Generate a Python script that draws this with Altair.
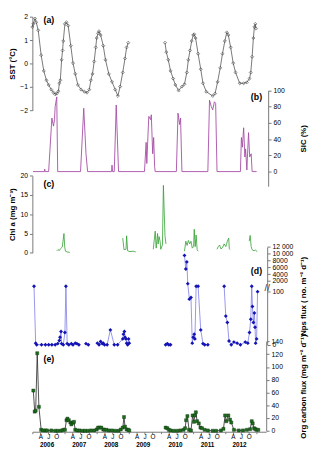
import altair as alt
import pandas as pd

FONT = "Liberation Sans"
TOP = 12          # page y of the plot-area top (8 px margin + 4 px padding)
W, H = 240, 425


def py(y):
    """page y -> plot y"""
    return y - TOP


# ---------------- data (decimal years) -------------
YEARS = [2006, 2007, 2008, 2009, 2010, 2011, 2012]
MONTH_FRAC = [0.0, 0.247, 0.496, 0.748]      # Jan, Apr, Jul, Oct
MONTH_LABELS = ["", "A", "J", "O"]

# (a) SST
sst1_t = [2006.000, 2006.030, 2006.082, 2006.122, 2006.182, 2006.274, 2006.356, 2006.438,
          2006.508, 2006.590, 2006.660, 2006.711, 2006.760, 2006.812, 2006.842, 2006.872,
          2006.912, 2006.942, 2006.964, 2007.015, 2007.064, 2007.116, 2007.198, 2007.267,
          2007.337, 2007.419, 2007.520, 2007.623, 2007.702, 2007.775, 2007.824, 2007.875,
          2007.927, 2007.976, 2008.006, 2008.049, 2008.079, 2008.128, 2008.210, 2008.280,
          2008.383, 2008.483, 2008.584, 2008.666, 2008.736, 2008.818, 2008.888, 2008.939,
          2008.991]
sst1_v = [1.56, 1.69, 1.92, 1.76, 1.42, 0.36, -0.31, -0.71, -0.91, -1.11, -1.24, -1.31, -1.28,
          -1.18, -0.84, -0.71, 0.16, 0.56, 0.96, 1.69, 1.76, 1.62, 0.76, 0.02, -0.44, -0.91,
          -1.11, -1.20, -1.24, -1.11, -0.71, -0.44, 0.09, 0.69, 1.09, 1.29, 1.38, 1.22, 0.76,
          0.16, -0.44, -0.78, -1.11, -1.38, -0.98, -0.38, 0.22, 0.69, 0.89]
sst2_t = [2010.134, 2010.176, 2010.237, 2010.307, 2010.389, 2010.459, 2010.559, 2010.663,
          2010.742, 2010.815, 2010.863, 2010.915, 2010.967, 2011.015, 2011.046, 2011.088,
          2011.167, 2011.249, 2011.319, 2011.422, 2011.623, 2011.696, 2011.775, 2011.857,
          2011.927, 2012.000, 2012.061, 2012.109, 2012.182, 2012.261, 2012.334, 2012.465,
          2012.587, 2012.687, 2012.769, 2012.809, 2012.851, 2012.891, 2012.921, 2012.951,
          2012.973]
sst2_v = [0.89, 0.49, 0.16, -0.31, -0.64, -0.91, -1.15, -0.98, -0.88, -0.38, 0.16, 0.56, 0.96,
          1.22, 1.25, 1.09, 0.42, -0.24, -0.84, -1.20, -1.38, -1.28, -0.78, -0.18, 0.42, 0.96,
          1.33, 1.22, 0.69, 0.02, -0.38, -0.84, -0.84, -0.80, -0.64, -0.38, 0.29, 1.09, 1.56,
          1.69, 1.49]

# (b) SIC (%)
sic_t = [2006.021, 2006.375, 2006.386, 2006.397, 2006.508, 2006.608, 2006.660, 2006.690,
         2006.711, 2006.760, 2006.790, 2007.502, 2007.602, 2007.672, 2007.723, 2008.470,
         2008.483, 2008.500, 2008.553, 2008.614, 2008.687, 2009.495, 2009.547, 2009.568,
         2009.629, 2009.687, 2009.708, 2009.751, 2009.781, 2009.812, 2009.830, 2010.489,
         2010.541, 2010.590, 2010.620, 2010.663, 2011.471, 2011.523, 2011.578, 2011.623,
         2011.675, 2011.714, 2011.757, 2012.486, 2012.517, 2012.547, 2012.587, 2012.626,
         2012.647, 2012.687, 2012.739, 2012.775, 2012.821, 2012.851, 2012.991]
sic_v = [0, 0, 3, 0, 0, 66, 56, 64, 80, 92, 0, 0, 78, 22, 0, 0, 8, 0, 0, 82, 0, 0, 36, 10, 68,
         64, 70, 22, 42, 6, 0, 0, 72, 58, 66, 0, 0, 88, 80, 76, 86, 84, 0, 0, 42, 30, 54, 18,
         28, 2, 48, 18, 22, 0, 0]

# (c) Chl a (mg m-3), one list per bloom season
chl_t = [
    [2006.760, 2006.796, 2006.842, 2006.872, 2006.933, 2006.985, 2007.009, 2007.033, 2007.085, 2007.167],
    [2008.818, 2008.857, 2008.920, 2008.939, 2008.970, 2009.040, 2009.143, 2009.222],
    [2009.769, 2009.830, 2009.860, 2009.903, 2009.921, 2009.951, 2009.982, 2010.003, 2010.055,
     2010.085, 2010.134, 2010.164],
    [2010.742, 2010.784, 2010.824, 2010.863, 2010.906, 2010.945, 2010.985, 2011.027, 2011.046,
     2011.076, 2011.106, 2011.137, 2011.167],
    [2011.757, 2011.796, 2011.836, 2011.878, 2011.927, 2011.979, 2012.030, 2012.079, 2012.122,
     2012.140, 2012.161],
    [2012.760, 2012.790, 2012.821, 2012.851, 2012.912, 2012.951, 2013.012],
]
chl_v = [
    [0.5, 0.8, 0.6, 1.0, 1.5, 5.0, 1.5, 0.4, 0.2, 0.1],
    [3.8, 0.8, 0.9, 4.4, 0.5, 0.3, 0.4, 0.2],
    [0.9, 5.6, 1.2, 5.0, 2.3, 4.2, 3.0, 0.9, 2.0, 17.5, 4.5, 2.3],
    [0.4, 3.0, 1.9, 3.2, 2.3, 3.0, 1.2, 1.6, 6.1, 1.6, 4.6, 0.8, 0.4],
    [0.9, 1.6, 2.0, 1.0, 1.3, 2.3, 1.6, 3.0, 3.8, 1.0, 0.8],
    [3.0, 4.5, 1.6, 0.8, 0.5, 0.7, 0.3],
]

# (d) Nps flux (no. m-2 d-1), one list per sampling segment
nps_t = [
    [2006.052, 2006.103, 2006.134, 2006.286, 2006.407, 2006.508, 2006.608, 2006.711, 2006.790,
     2006.842, 2006.863, 2006.894, 2006.912, 2006.964, 2007.015, 2007.046, 2007.085, 2007.137,
     2007.216, 2007.267, 2007.337, 2007.389, 2007.450],
    [2007.672, 2007.745],
    [2008.027, 2008.079, 2008.128, 2008.179, 2008.210, 2008.249, 2008.331, 2008.432, 2008.553,
     2008.657, 2008.818, 2008.839, 2008.869, 2008.888, 2008.918, 2008.939, 2008.970, 2009.000,
     2009.021],
    [2010.155, 2010.207, 2010.255, 2010.307],
    [2010.742, 2010.784, 2010.815, 2010.845, 2010.894, 2010.945, 2010.985, 2011.015, 2011.046,
     2011.067, 2011.106, 2011.167, 2011.249, 2011.319, 2011.371, 2011.471],
    [2011.979, 2012.030, 2012.079, 2012.131, 2012.201, 2012.283, 2012.383, 2012.486, 2012.638,
     2012.717, 2012.769, 2012.809, 2012.839, 2012.860, 2012.891, 2012.921, 2012.942, 2012.960,
     2012.991, 2013.021],
]
nps_v = [
    [1070, 3, 0, 0, 0, 0, 0, 0, 2, 8, 14, 25, 2, 0, 23, 1070, 2, 0, 2, 0, 3, 2, 0],
    [2, 0],
    [3, 0, 6, 2, 3, 0, 0, 28, 0, 0, 11, 20, 25, 14, 11, 3, 0, 11, 3],
    [0, 2, 0, 0],
    [9514, 5514, 7600, 1534, 86, 89, 3, 14, 20, 11, 1070, 1070, 28, 2, 0, 0],
    [1070, 54, 42, 7, 0, 5, 3, 0, 5, 3, 23, 48, 1070, 72, 42, 60, 33, 3, 11, 110],
]
NPS_TICKS = [0, 100, 2000, 4000, 6000, 8000, 10000, 12000]
NPS_TICK_LABELS = ["0", "100", "2000", "4000", "6000", "8000", "10 000", "12 000"]

# (e) Org carbon flux (mg m-2 d-1)
org_t = [
    [2006.030, 2006.073, 2006.103, 2006.152, 2006.204, 2006.274, 2006.334, 2006.407, 2006.456,
     2006.590, 2006.711, 2006.790, 2006.894, 2006.964, 2007.015, 2007.064, 2007.094, 2007.137,
     2007.185, 2007.216, 2007.267, 2007.298, 2007.337, 2007.398, 2007.471, 2007.571, 2007.641,
     2007.723, 2007.824, 2007.927, 2008.006, 2008.049, 2008.097, 2008.149, 2008.210, 2008.249,
     2008.310, 2008.383, 2008.483, 2008.584, 2008.687, 2008.757, 2008.818, 2008.857, 2008.888,
     2008.939, 2008.991, 2009.021],
    [2010.155, 2010.207, 2010.255, 2010.307, 2010.407, 2010.511, 2010.611, 2010.711, 2010.763,
     2010.793, 2010.833, 2010.885, 2010.945, 2010.997, 2011.036, 2011.067, 2011.097, 2011.137,
     2011.188, 2011.240, 2011.289, 2011.371, 2011.471, 2011.623, 2011.726, 2011.878, 2011.957,
     2012.009, 2012.049, 2012.109, 2012.161, 2012.201, 2012.283, 2012.435, 2012.565, 2012.687,
     2012.790, 2012.839, 2012.869, 2012.912, 2012.951, 2012.991, 2013.043],
]
org_v = [
    [63, 30, 31.5, 121.5, 37.5, 1.5, 0.5, 0.5, 0.5, 0.5, 0, 0, 0.3, 1.5, 1.5, 16.5, 19, 16.5,
     13, 10, 12.5, 14, 1.5, 0.5, 0.5, 0, 0, 0, 0.5, 0.5, 2, 5, 5, 5, 2, 1.5, 1.5, 0.5, 0.5, 0,
     0, 2, 5, 21.5, 6.5, 2, 1.5, 0.5],
    [5, 4, 1.5, 0.5, 0, 0, 0.5, 1.5, 4, 16.5, 23, 1.5, 0.5, 24, 14, 24, 29, 15, 11.5, 5, 4,
     1.5, 0.5, 0, 0, 0.5, 3, 24, 15, 24, 17.5, 13, 1.5, 0.5, 0.5, 1.5, 2.5, 15, 11.5, 4, 2.5,
     1.5, 1.5],
]


def segs(ts, vs):
    rows = []
    for i, (tt, vv) in enumerate(zip(ts, vs)):
        rows += [{"t": a, "v": b, "seg": i} for a, b in zip(tt, vv)]
    return pd.DataFrame(rows)


sst_df = segs([sst1_t, sst2_t], [sst1_v, sst2_v])
sic_df = pd.DataFrame({"t": sic_t, "v": sic_v})
chl_df = segs(chl_t, chl_v)
nps_df = segs(nps_t, nps_v)
org_df = segs(org_t, org_v)
year_df = pd.DataFrame({"year": YEARS})


# ---------------- broken Nps axis: value -> display units --------------------------
def nps_pos(v):
    if v <= 100:
        return v * 0.544
    if v <= 2000:
        return 54.4 + (v - 100) * 11 / 1900
    return 65.4 + (v - 2000) * 0.0035


NPS_EXPR = ("datum.v <= 100 ? datum.v * 0.544 : (datum.v <= 2000 ? "
            "54.4 + (datum.v - 100) * 11 / 1900 : 65.4 + (datum.v - 2000) * 0.0035)")
nps_tick_pos = [nps_pos(v) for v in NPS_TICKS]
nps_label_expr = "''"
for p, lab in reversed(list(zip(nps_tick_pos, NPS_TICK_LABELS))):
    nps_label_expr = f"abs(datum.value - {p:.3f}) < 0.5 ? '{lab}' : ({nps_label_expr})"

# ---------------- shared x ---------------------------------------------------------
x_ticks = [y + f for y in YEARS for f in MONTH_FRAC] + [2013.0]
x_label_expr = ("(datum.value - floor(datum.value)) < 0.1 ? '' : "
                "((datum.value - floor(datum.value)) < 0.3 ? 'A' : "
                "((datum.value - floor(datum.value)) < 0.6 ? 'J' : 'O'))")
XSCALE = alt.Scale(domain=[2006.0, 2013.29], nice=False, zero=False)
XAXIS = alt.Axis(values=x_ticks, labelExpr=x_label_expr, title=None, grid=False,
                 tickSize=2, labelFontSize=6.5, labelPadding=0, domainColor="#777",
                 tickColor="#777", labelColor="#000", labelFont=FONT)


def X(field="t"):
    return alt.X(f"{field}:Q", scale=XSCALE, axis=XAXIS)


def yaxis(orient, title, values, offset=0, label_expr=None, title_x=None):
    kw = dict(orient=orient, title=title, values=values, offset=offset, grid=False,
              domainColor="#777", tickColor="#777", tickSize=3, labelFontSize=7,
              labelColor="#000", labelPadding=2, labelFont=FONT, titleFont=FONT,
              titleFontSize=8, titleFontWeight="bold", titleColor="#000",
              titleAngle=270, titleBaseline="middle")
    if title_x is not None:
        kw["titleX"] = title_x
    if label_expr is not None:
        kw["labelExpr"] = label_expr
    return alt.Axis(**kw)


# (a) SST
sst = alt.Chart(sst_df).mark_line(
    color="#555", strokeWidth=0.8,
    point=alt.OverlayMarkDef(shape="diamond", filled=False, size=10, color="#444",
                             strokeWidth=0.6)
).encode(
    x=X(),
    y=alt.Y("v:Q", scale=alt.Scale(domain=[-2, 2], range=[py(107.3), py(11)], nice=False),
            axis=yaxis("left", "SST (°C)", [-2, -1, 0, 1, 2], title_x=-20)),
    detail="seg:N",
)

# (b) SIC
sic = alt.Chart(sic_df).mark_line(color="#a54ca5", strokeWidth=0.9).encode(
    x=X(),
    y=alt.Y("v:Q", scale=alt.Scale(domain=[-18, 100], range=[py(185), py(86.7)], nice=False,
                                   zero=False),
            axis=yaxis("right", "SIC (%)", [0, 20, 40, 60, 80, 100], offset=2, title_x=36)),
)

# (c) Chl a
chl = alt.Chart(chl_df).mark_line(color="#2f9e2f", strokeWidth=0.8).encode(
    x=X(),
    y=alt.Y("v:Q", scale=alt.Scale(domain=[0, 20], range=[py(253.3), py(174.3)], nice=False),
            axis=yaxis("left", "Chl a (mg m⁻³)", [0, 5, 10, 15, 20], title_x=-20)),
    detail="seg:N",
)

# (d) Nps flux
nps = alt.Chart(nps_df).transform_calculate(d=NPS_EXPR).mark_line(
    color="#7b7be8", strokeWidth=0.8,
    point=alt.OverlayMarkDef(shape="diamond", filled=True, size=16, color="#1414b4")
).encode(
    x=X(),
    y=alt.Y("d:Q", scale=alt.Scale(domain=[0, nps_pos(12000)], range=[py(347.7), py(247.3)],
                                   nice=False),
            axis=yaxis("right", "Nps flux ( no. m⁻² d⁻¹)", nps_tick_pos, offset=1,
                       label_expr=nps_label_expr, title_x=37)),
    detail="seg:N",
)

# (e) Org carbon flux
org = alt.Chart(org_df).mark_line(
    color="#222", strokeWidth=0.8,
    point=alt.OverlayMarkDef(shape="square", filled=True, size=10, color="#1f6b1f",
                             stroke="#0b300b", strokeWidth=0.4)
).encode(
    x=X(),
    y=alt.Y("v:Q", scale=alt.Scale(domain=[0, 140], range=[py(436), py(344.3)], nice=False),
            axis=yaxis("right", "Org carbon flux (mg m⁻² d⁻¹)",
                       [0, 20, 40, 60, 80, 100, 120, 140], offset=0, title_x=38)),
    detail="seg:N",
)

# year labels under the month letters
years = alt.Chart(year_df).transform_calculate(tm="datum.year + 0.46").mark_text(
    font=FONT, fontSize=6.5, fontWeight="bold", color="#000", baseline="middle"
).encode(x=X("tm"), y=alt.value(py(450.5)), text="year:N")


def label(txt, px, pyy):
    return alt.Chart(alt.Data(values=[{"k": 1}])).mark_text(
        text=txt, font=FONT, fontSize=9, fontWeight="bold", color="#000",
        align="center", baseline="middle"
    ).encode(x=alt.value(px - 33), y=alt.value(py(pyy)))


labels = [label("(a)", 50, 15), label("(b)", 263, 93.5), label("(c)", 50, 183),
          label("(d)", 263, 272), label("(e)", 50, 362)]

brk = alt.Chart(alt.Data(values=[{"k": 1}])).mark_text(
    text="//", font=FONT, fontSize=10, color="#333", align="center", baseline="middle"
).encode(x=alt.value(W + 1), y=alt.value(py(290)))

chart = alt.layer(sst, sic, chl, nps, org, years, brk, *labels).resolve_scale(
    y="independent"
).properties(
    width=W, height=H,
    autosize=alt.AutoSizeParams(type="none"),
    padding={"left": 25, "top": 4, "right": 47, "bottom": 19},
).configure_view(stroke="transparent").configure_axis(grid=False)

chart.save("out.html", embed_options={"renderer": "svg", "actions": False})
